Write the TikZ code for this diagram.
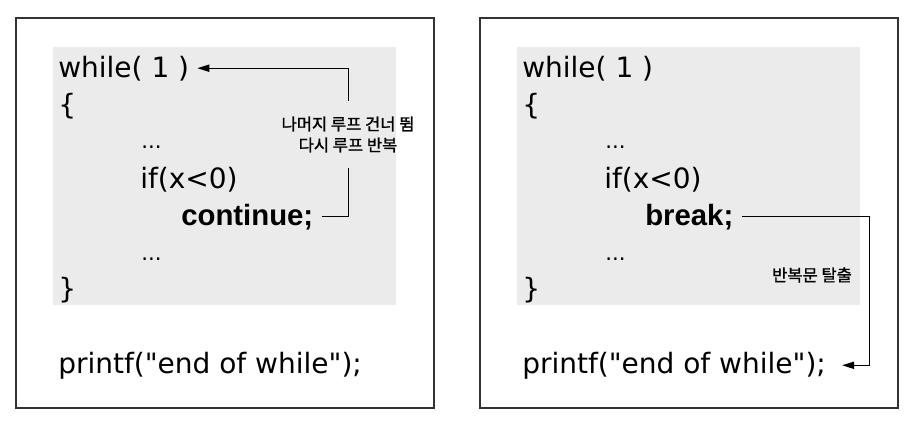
\documentclass[tikz,border=0pt]{standalone}
\usepackage{fontspec}
\setmainfont{DejaVu Sans}[Ligatures=TeXOff]
\newfontfamily\kwfont{Liberation Sans}[Ligatures=TeXOff]
\newfontfamily\kofont{Noto Sans CJK KR}[FakeBold=1.2]
\usepackage{tikz}
\usetikzlibrary{arrows.meta,positioning}
\definecolor{panelgray}{RGB}{51,51,51}
\definecolor{sheetgray}{RGB}{235,235,235}

\begin{document}
\begin{tikzpicture}[x=0.75pt, y=-0.75pt,
    panel/.style={draw=panelgray, line width=1.1pt},
    sheet/.style={fill=sheetgray},
    code/.style={anchor=base west, inner xsep=6pt, font=\fontsize{21}{25}\selectfont},
    kw/.style={anchor=base west, inner xsep=6pt, font=\kwfont\bfseries\fontsize{22}{26}\selectfont},
    dots/.style={anchor=base west, inner xsep=6pt, font=\fontsize{16}{18}\selectfont},
    note/.style={font=\kofont\fontsize{12.4}{15.75}\selectfont, align=center, inner sep=0pt},
    arrow/.style={-{Triangle[length=9pt,width=5.5pt]}, line width=0.75pt}
]
    \useasboundingbox (0,0) rectangle (915,429);

    % continue panel
    \draw[panel] (16,18) rectangle (434,408);
    \fill[sheet] (53,47) rectangle (396,305);
    \node[code] (L-while) at (50,77) {while( 1 )};
    \node[code] (L-open) at (50,114) {\{};
    \node[dots] (L-dots1) at (133,148) {...};
    \node[code] (L-if) at (132,188) {if(x<0)};
    \node[kw] (L-cont) at (173,225) {continue;};
    \node[dots] (L-dots2) at (133,260) {...};
    \node[code] (L-close) at (50,298) {\}};
    \node[code] (L-end) at (50,373) {printf("end of while");};
    \node[note, minimum height=50.25pt] (L-skip) at (348,134.5) {나머지 루프 건너 뜀\\다시 루프 반복};

    \draw[line width=0.75pt] (L-cont.east) -| (L-skip.south);
    \draw[arrow] (L-skip.north) |- (L-while.east);

    % break panel
    \draw[panel] (480,18) rectangle (898,408);
    \fill[sheet] (517,47) rectangle (860,305);
    \node[code] (R-while) at (514,77) {while( 1 )};
    \node[code] (R-open) at (514,114) {\{};
    \node[dots] (R-dots1) at (597,148) {...};
    \node[code] (R-if) at (596,188) {if(x<0)};
    \node[kw] (R-brk) at (637,225) {break;};
    \node[dots] (R-dots2) at (597,260) {...};
    \node[code] (R-close) at (514,298) {\}};
    \node[code] (R-end) at (514,373) {printf("end of while");};
    \node[note] (R-exit) at (812,275) {반복문 탈출};
    \coordinate (R-turn) at (869,0);

    \draw[arrow] (R-brk.east) -- (R-brk.east -| R-turn) |- ([xshift=6pt]R-end.east);
\end{tikzpicture}
\end{document}
